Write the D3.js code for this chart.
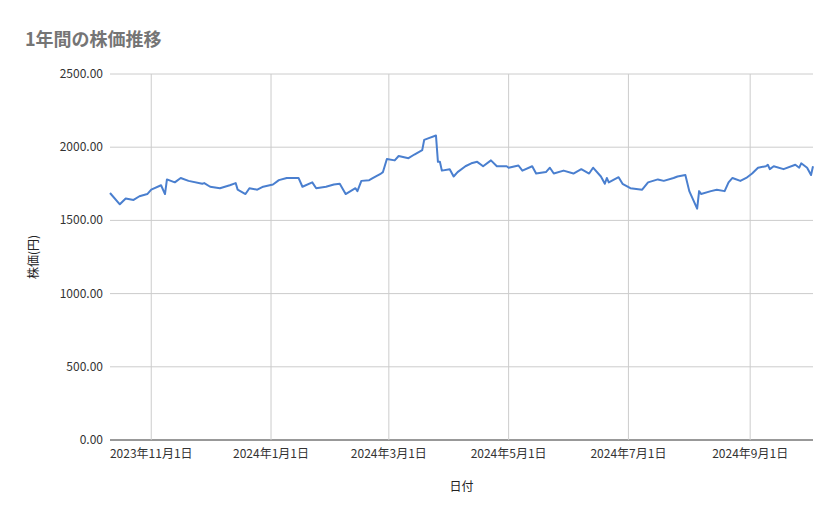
<!DOCTYPE html>
<html><head><meta charset="utf-8">
<script src="https://cdn.jsdelivr.net/npm/d3@7"></script>
<style>body{margin:0;background:#fff}svg{font-family:"Noto Sans CJK JP","Noto Sans",sans-serif}</style>
</head><body><svg id="c" width="839" height="519"></svg>
<script>
const dates=["2023-10-11","2023-10-16","2023-10-19","2023-10-23","2023-10-26","2023-10-30","2023-11-01","2023-11-06","2023-11-08","2023-11-09","2023-11-13","2023-11-16","2023-11-20","2023-11-27","2023-11-28","2023-12-01","2023-12-06","2023-12-11","2023-12-14","2023-12-15","2023-12-19","2023-12-21","2023-12-25","2023-12-28","2024-01-02","2024-01-05","2024-01-09","2024-01-15","2024-01-17","2024-01-22","2024-01-24","2024-01-29","2024-02-02","2024-02-05","2024-02-08","2024-02-13","2024-02-14","2024-02-16","2024-02-20","2024-02-22","2024-02-26","2024-02-27","2024-02-29","2024-03-04","2024-03-06","2024-03-11","2024-03-14","2024-03-18","2024-03-19","2024-03-21","2024-03-25","2024-03-26","2024-03-27","2024-03-28","2024-04-01","2024-04-03","2024-04-05","2024-04-09","2024-04-12","2024-04-15","2024-04-18","2024-04-22","2024-04-25","2024-04-30","2024-05-01","2024-05-06","2024-05-08","2024-05-13","2024-05-15","2024-05-20","2024-05-22","2024-05-24","2024-05-29","2024-06-03","2024-06-07","2024-06-11","2024-06-13","2024-06-17","2024-06-19","2024-06-20","2024-06-21","2024-06-26","2024-06-28","2024-07-02","2024-07-08","2024-07-11","2024-07-16","2024-07-19","2024-07-24","2024-07-26","2024-07-30","2024-08-01","2024-08-05","2024-08-06","2024-08-07","2024-08-12","2024-08-15","2024-08-19","2024-08-21","2024-08-23","2024-08-27","2024-08-30","2024-09-02","2024-09-05","2024-09-09","2024-09-10","2024-09-11","2024-09-13","2024-09-18","2024-09-24","2024-09-26","2024-09-27","2024-09-30","2024-10-02","2024-10-03"];
const prices=[1687,1610,1650,1640,1665,1680,1710,1740,1680,1780,1760,1790,1770,1750,1755,1730,1720,1740,1755,1710,1680,1720,1710,1730,1745,1775,1790,1790,1730,1760,1720,1730,1745,1750,1680,1720,1700,1770,1775,1790,1820,1830,1920,1910,1940,1925,1950,1980,2050,2060,2080,1900,1900,1840,1850,1800,1830,1870,1890,1900,1870,1910,1870,1870,1860,1875,1840,1870,1820,1830,1860,1820,1840,1820,1850,1820,1860,1800,1750,1790,1760,1795,1750,1720,1710,1760,1780,1770,1790,1800,1810,1700,1580,1700,1680,1700,1710,1700,1760,1790,1770,1790,1820,1860,1870,1880,1850,1870,1850,1880,1860,1890,1860,1810,1870];
const yTicks=[0,500,1000,1500,2000,2500];
const xTickDates=["2023-11-01","2024-01-01","2024-03-01","2024-05-01","2024-07-01","2024-09-01"];
const parse=d3.timeParse("%Y-%m-%d");
const data=dates.map((d,i)=>({d:parse(d),v:prices[i]}));
const svg=d3.select("#c");
const L=110,R=813,T=74,B=440;
const x=d3.scaleTime().domain([parse("2023-10-11"),parse("2024-10-03")]).range([L,R]);
const y=d3.scaleLinear().domain([0,2500]).range([B,T]);
svg.append("g").selectAll("line").data(yTicks).join("line")
 .attr("x1",L).attr("x2",R).attr("y1",d=>y(d)).attr("y2",d=>y(d))
 .attr("stroke",d=>d===0?"#333":"#ccc");
svg.append("g").selectAll("text").data(yTicks).join("text")
 .attr("x",L-7).attr("y",d=>y(d)+4).attr("text-anchor","end").attr("font-size",12).attr("fill","#333").text(d=>d.toFixed(2));
const xt=xTickDates.map(parse);
svg.append("g").selectAll("line").data(xt).join("line")
 .attr("x1",d=>x(d)).attr("x2",d=>x(d)).attr("y1",T).attr("y2",B).attr("stroke","#ccc");
svg.append("g").selectAll("text").data(xt).join("text")
 .attr("x",d=>x(d)).attr("y",B+18).attr("text-anchor","middle").attr("font-size",12).attr("fill","#333")
 .text(d3.timeFormat("%Y年%-m月%-d日"));
svg.append("path").datum(data).attr("fill","none").attr("stroke","#4a7fcf").attr("stroke-width",2)
 .attr("stroke-linejoin","round").attr("d",d3.line().x(d=>x(d.d)).y(d=>y(d.v)));
svg.append("text").attr("x",25).attr("y",46).attr("font-size",18).attr("font-weight","bold").attr("fill","#757575").text("1年間の株価推移");
svg.append("text").attr("transform","translate(38,"+((T+B)/2)+") rotate(-90)").attr("text-anchor","middle").attr("font-size",12).attr("fill","#222").text("株価(円)");
svg.append("text").attr("x",(L+R)/2).attr("y",491).attr("text-anchor","middle").attr("font-size",12).attr("fill","#222").text("日付");
</script></body></html>
